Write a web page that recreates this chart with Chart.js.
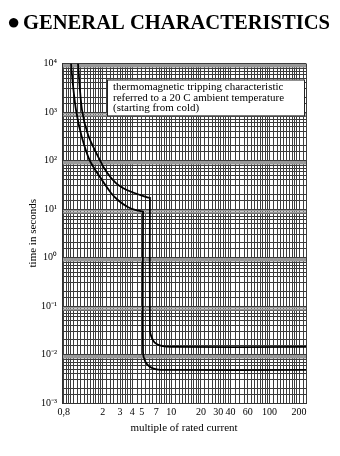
<!DOCTYPE html>
<html lang="en">
<head>
  <meta charset="UTF-8">
  <title>General characteristics</title>
  <script src="https://cdn.jsdelivr.net/npm/chart.js"></script>
  <style>
    body {
      margin: 0;
      background: #fff;
    }
  </style>
</head>
<body>
  <canvas id="tripChart" width="340" height="456"></canvas>
  <script>
    // lower band of the tripping characteristic (multiple of In / seconds)
    const lowerCurrent = [0.951, 0.996, 1.069, 1.21, 1.47, 1.87, 2.43, 2.93, 3.6, 4.27, 5.15, 5.15, 5.15, 5.43, 6.03, 7.03, 9, 235];
    const lowerTime = [10000, 3600, 1100, 336, 102, 46, 21.4, 14.6, 11, 9.6, 8.8, 8.8, 0.0107, 0.0071, 0.0056, 0.00495, 0.0048, 0.0048];

    // upper band
    const upperCurrent = [1.12, 1.23, 1.42, 1.87, 2.21, 2.73, 3.21, 3.89, 4.79, 5.7, 6.05, 6.05, 6.05, 6.25, 6.77, 7.9, 10, 235];
    const upperTime = [10000, 1100, 336, 102, 56.6, 34, 27.1, 22.7, 19.5, 17.4, 17, 17, 0.032, 0.0233, 0.0175, 0.015, 0.0143, 0.0143];

    // axis ranges
    const xMin = 0.77, xMax = 235;
    const yMin = 0.001, yMax = 10000;

    // tick labels
    const xLabelValues = [0.8, 2, 3, 4, 5, 7, 10, 20, 30, 40, 60, 100, 200];
    const xLabels = ["0,8", "2", "3", "4", "5", "7", "10", "20", "30", "40", "60", "100", "200"];
    const yLabelValues = [0.001, 0.01, 0.1, 1, 10, 100, 1000, 10000];
    const yLabels = ["10⁻³", "10⁻²", "10⁻¹", "10⁰", "10¹", "10²", "10³", "10⁴"];

    // log paper rulings inside one decade
    const xRulings = [1, 1.1, 1.2, 1.3, 1.4, 1.5, 1.6, 1.7, 1.8, 1.9, 2, 2.2, 2.4, 2.6, 2.8, 3, 3.2, 3.4, 3.6, 3.8, 4, 4.5, 5, 5.5, 6, 6.5, 7, 7.5, 8, 8.5, 9, 9.5];
    const yRulings = [1, 1.5, 2, 3, 4, 5, 6, 7, 8, 8.5, 9, 9.5];

    const noteLines = [
      "thermomagnetic tripping characteristic",
      "referred to a 20 C ambient temperature",
      "(starting from cold)"
    ];

    const serif = "'Liberation Serif', 'Times New Roman', serif";

    function rulingValues(steps, min, max) {
      const out = [];
      for (let e = -4; e <= 4; e++) {
        steps.forEach(m => {
          const v = +(m * Math.pow(10, e)).toPrecision(6);
          if (v >= min * 0.9999 && v <= max * 1.0001) out.push(v);
        });
      }
      return out;
    }

    const xGrid = rulingValues(xRulings, 0.8, 230);
    xGrid.push(xMax);
    const yGrid = rulingValues(yRulings, yMin, yMax);

    function labelFor(values, labels, value) {
      const i = values.findIndex(v => Math.abs(v - value) / v < 1e-6);
      return i >= 0 ? labels[i] : "";
    }

    function mantissa(v) {
      return +(v / Math.pow(10, Math.floor(Math.log10(v) + 1e-9))).toFixed(3);
    }

    // heading and the note box
    const decorations = {
      id: "decorations",
      afterDraw(chart) {
        const { ctx, chartArea } = chart;
        ctx.save();
        ctx.fillStyle = "#000";
        ctx.textBaseline = "middle";
        ctx.font = "bold 22px " + serif;
        ctx.fillText("●", 7, 23);
        ctx.fillText("GENERAL CHARACTERISTICS", 23, 23, 307);

        const x = chartArea.left + 45;
        const y = chartArea.top + 16;
        const w = 197, h = 36;
        ctx.fillStyle = "#fff";
        ctx.fillRect(x, y, w, h);
        ctx.strokeStyle = "#222";
        ctx.lineWidth = 1;
        ctx.strokeRect(x + 0.5, y + 0.5, w, h);
        ctx.fillStyle = "#000";
        ctx.font = "11px " + serif;
        noteLines.forEach((t, i) => ctx.fillText(t, x + 6, y + 8 + i * 10.4));
        ctx.restore();
      }
    };

    const ctx = document.getElementById("tripChart").getContext("2d");

    new Chart(ctx, {
      type: "scatter",
      data: {
        datasets: [
          {
            label: "lower",
            data: lowerCurrent.map((x, i) => ({ x: x, y: lowerTime[i] })),
            showLine: true,
            borderColor: "#000",
            borderWidth: 1.8,
            pointRadius: 0,
            tension: 0.3
          },
          {
            label: "upper",
            data: upperCurrent.map((x, i) => ({ x: x, y: upperTime[i] })),
            showLine: true,
            borderColor: "#000",
            borderWidth: 1.8,
            pointRadius: 0,
            tension: 0.3
          }
        ]
      },
      options: {
        responsive: false,
        animation: false,
        layout: {
          padding: { left: 0, right: 34, top: 63.5, bottom: 0 }
        },
        plugins: {
          legend: { display: false },
          tooltip: { enabled: false }
        },
        scales: {
          x: {
            type: "logarithmic",
            min: xMin,
            max: xMax,
            afterBuildTicks: scale => { scale.ticks = xGrid.map(v => ({ value: v })); },
            afterFit: scale => { scale.height = 53; },
            ticks: {
              autoSkip: false,
              maxRotation: 0,
              minRotation: 0,
              padding: 3,
              color: "#000",
              font: { family: serif, size: 10 },
              callback: value => labelFor(xLabelValues, xLabels, value)
            },
            grid: {
              drawTicks: false,
              color: "#3c3c3c",
              lineWidth: 1
            },
            border: { color: "#333" },
            title: {
              display: true,
              text: "multiple of rated current",
              color: "#000",
              font: { family: serif, size: 11 },
              padding: { top: 0, bottom: 21 }
            }
          },
          y: {
            type: "logarithmic",
            min: yMin,
            max: yMax,
            afterBuildTicks: scale => { scale.ticks = yGrid.map(v => ({ value: v })); },
            afterFit: scale => { scale.width = 62; },
            ticks: {
              autoSkip: false,
              padding: 5,
              color: "#000",
              font: { family: serif, size: 10 },
              callback: value => labelFor(yLabelValues, yLabels, value)
            },
            grid: {
              drawTicks: false,
              color: c => (c.tick && mantissa(c.tick.value) >= 8.5) ? "#999" : "#3c3c3c",
              lineWidth: c => (c.tick && mantissa(c.tick.value) >= 8.5) ? 1.5 : 1
            },
            border: { color: "#333" },
            title: {
              display: true,
              text: "time in seconds",
              color: "#000",
              font: { family: serif, size: 11 },
              padding: { top: 27, bottom: 0 }
            }
          }
        }
      },
      plugins: [decorations]
    });
  </script>
</body>
</html>
